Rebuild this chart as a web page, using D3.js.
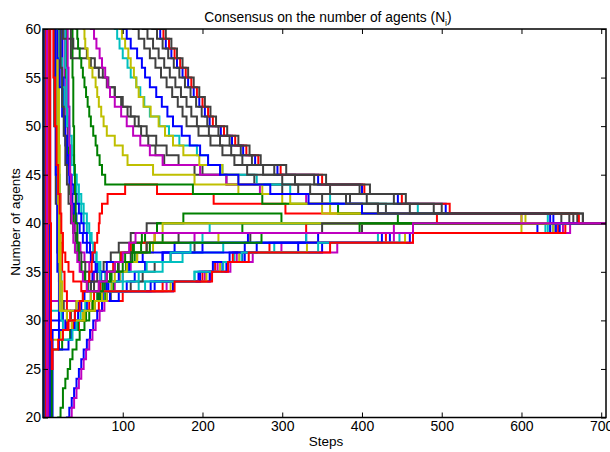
<!DOCTYPE html>
<html>
<head>
<meta charset="utf-8">
<script src="https://cdn.jsdelivr.net/npm/d3@7"></script>
<style>
body { margin: 0; background: #fff; }
text { font-family: "Liberation Sans", Arial, Helvetica, sans-serif; }
</style>
</head>
<body>
<script>
// tick labels
var xTicks = [100, 200, 300, 400, 500, 600, 700];
var yTicks = [20, 25, 30, 35, 40, 45, 50, 55, 60];
var lastStep = 706;

// matlab line colours
var cb = "#0000ff", cg = "#008000", cr = "#ff0000", cc = "#00bfbf",
    cm = "#bf00bf", cy = "#bfbf00", ck = "#404040";

// each agent: [step, value] points where its estimate changes
var agentV1 = [[0,150],[1,-60],[2,120],[3,10],[6,31],[20,32],[60,33],[120,34],[190,35],[215,36],[240,37],[290,38],[420,39],[630,40]];
var agentV2 = [[0,-80],[2,130],[4,-30],[7,30],[25,31],[45,32],[75,33],[140,34],[195,35],[225,36],[250,37],[320,38],[435,39],[643,40]];
var agentV3 = [[0,100],[3,-40],[5,90],[8,29],[30,30],[50,31],[65,32],[85,33],[110,34],[125,35],[140,36],[160,37],[190,38],[260,39],[400,40]];
var agentV4 = [[0,-90],[4,150],[6,-20],[9,29],[30,30],[50,31],[70,32],[100,33],[150,34],[200,35],[216,36],[238,37],[284,38],[430,39],[646,40]];
var agentV5 = [[0,120],[5,-20],[8,32],[60,33],[163,34],[210,35],[235,36],[263,37],[369,38],[464,39],[661,40]];

var agentD1 = [[0,0],[19,20],[22,21],[25,23],[28,24],[31,25],[34,26],[37,27],[42,28],[46,29],[52,30],[58,31],[64,32],[72,33],[78,34],[84,35],[90,36],[97,37],[112,38],[128,39],[143,40],[176,41],[299,40]];
var agentD2 = [[0,0],[30,20],[33,21],[36,22],[39,23],[42,24],[45,25],[48,26],[51,27],[55,28],[59,29],[63,30],[68,31],[74,32],[80,33],[163,34],[209,35],[230,36],[253,37],[350,38],[460,39],[648,40]];
var agentD3 = [[0,0],[33,20],[36,21],[39,22],[42,23],[45,24],[48,25],[51,26],[54,27],[58,28],[62,29],[66,30],[71,31],[77,32],[84,33],[155,34],[203,35],[219,36],[243,37],[299,38],[440,39],[652,40]];

var agentE1 = [[0,90],[25,60],[27,55],[29,51],[31,48],[33,45],[35,43],[37,41],[40,39],[43,38],[47,37],[52,36],[58,35],[64,34],[72,33],[90,34],[100,35],[110,36],[118,37],[130,38],[190,39],[440,40]];
var agentE2 = [[0,90],[28,60],[29,55],[30,50],[32,46],[34,43],[36,41],[38,39],[41,37],[44,36],[48,35],[53,34],[60,33],[68,32],[78,33],[88,34],[96,35],[104,36],[115,37],[123,38],[150,39],[250,40]];
var agentE3 = [[0,90],[22,60],[24,55],[26,51],[28,48],[30,46],[33,44],[36,42],[39,41],[42,40],[46,39],[50,38],[55,37],[60,36],[66,35],[72,34],[78,33],[84,32],[95,33],[105,34],[115,35],[128,36],[150,37],[200,38],[330,39],[643,40]];
var agentE4 = [[0,90],[26,60],[28,56],[30,52],[33,49],[36,47],[39,45],[42,43],[45,42],[48,41],[51,40],[55,39],[59,38],[63,37],[67,36],[72,35],[78,34],[86,33],[100,34],[120,35],[150,36],[175,37],[226,38],[330,39],[636,40]];
var agentE5 = [[0,90],[12,60],[14,50],[16,42],[18,37],[20,34],[23,32],[26,31],[30,30],[35,31],[42,32],[50,33],[60,34],[68,35],[76,36],[85,37],[95,38],[110,39],[130,40]];
var agentE6 = [[0,90],[16,60],[18,50],[20,43],[22,38],[24,35],[27,33],[30,31],[34,30],[38,29],[45,30],[52,31],[58,32],[64,33],[72,34],[80,35],[88,36],[98,37],[110,38],[140,39],[330,40]];
var agentE7 = [[0,-50],[10,28],[22,29],[36,30],[50,31],[62,32],[74,33],[86,34],[96,35],[106,36],[118,37],[138,38],[220,39],[600,40]];
var agentE8 = [[0,150],[9,-40],[12,29],[28,30],[40,31],[55,32],[70,33],[82,34],[95,35],[108,36],[125,37],[165,38],[257,39],[620,40]];
var agentE9 = [[0,-60],[11,27],[24,28],[34,29],[44,30],[54,31],[62,32],[70,33],[78,34],[86,35],[94,36],[103,37],[114,38],[124,39],[143,40]];

var agentC1 = [[0,90],[14,60],[16,45],[18,35],[20,27],[32,28],[36,29],[40,30],[44,31],[48,32],[52,33],[56,34],[62,35],[80,36],[150,37],[253,38],[345,39],[640,40]];
var agentC2 = [[0,90],[17,60],[19,45],[21,35],[23,30],[25,28],[37,29],[42,30],[47,31],[53,32],[60,33],[80,34],[100,35],[130,36],[160,37],[185,38],[200,39],[209,40]];
var agentY1 = [[0,90],[17,60],[18,50],[19,42],[20,36],[21,31],[42,32],[60,33],[75,34],[90,35],[105,36],[118,37],[130,38],[140,39],[150,40]];
var agentY2 = [[0,90],[19,60],[20,48],[21,40],[22,34],[24,31],[30,30],[52,31],[65,32],[80,33],[160,34],[205,35],[222,36],[246,37],[331,38],[454,39],[640,40]];

var agentF1 = [[0,90],[15,60],[18,57],[21,54],[24,51],[27,49],[30,47],[33,45],[36,44],[39,43],[42,42],[45,41],[48,40],[51,39],[55,38],[59,37],[63,36],[68,35],[73,34],[80,33],[135,34],[197,35],[213,36],[234,37],[268,38],[425,39],[636,40]];
var agentF2 = [[0,90],[18,60],[21,57],[24,54],[27,52],[30,50],[33,48],[36,46],[39,45],[42,44],[45,43],[48,42],[51,41],[55,40],[58,39],[61,38],[64,37],[67,36],[70,35],[72,34],[75,33],[128,34],[190,35],[226,36],[249,37],[345,38],[447,39],[633,40]];
var agentF4 = [[0,90],[11,60],[13,55],[15,50],[17,46],[19,43],[21,41],[23,39],[25,37],[28,36],[32,35],[38,34],[48,33],[165,34],[212,35],[232,36],[258,37],[360,38],[464,39],[655,40]];
var agentF5 = [[0,90],[20,60],[22,56],[24,52],[26,49],[28,46],[30,44],[32,42],[35,40],[38,39],[41,38],[44,37],[48,36],[53,35],[58,34],[64,33],[70,34],[80,35],[95,36],[110,37],[130,38],[170,39],[350,40]];
var agentF6 = [[0,90],[36,60],[37,55],[38,50],[39,46],[40,43],[41,40],[43,38],[45,36],[48,35],[52,34],[56,33],[75,34],[85,35],[100,36],[112,37],[134,38],[274,39],[397,40]];

var agentR1 = [[0,90],[8,60],[9,40],[10,28],[11,25],[12,27],[19,28],[25,29],[32,30],[40,31],[46,32],[50,33],[55,34],[58,35],[61,36],[62,37],[65,38],[68,39],[70,40],[71,41],[74,42],[81,43],[103,44],[143,43],[214,42],[304,41],[494,40]];

var agentB1 = [[0,90],[25,59],[38,58],[55,57],[65,56],[75,55],[82,54],[90,53],[98,52],[106,51],[115,50],[123,49],[132,48],[141,47],[152,46],[200,45],[265,44],[320,43],[385,42],[430,41],[665,40]];
var agentB2 = [[0,90],[35,57],[60,56],[70,55],[80,54],[90,53],[100,52],[110,51],[120,50],[130,49],[142,48],[155,47],[170,46],[190,45],[230,44],[300,43],[350,42],[420,41],[650,40]];
var agentB3 = [[0,70],[60,60],[64,59],[67,58],[71,57],[74,56],[78,55],[81,54],[84,53],[90,52],[98,51],[105,50],[113,49],[122,48],[134,47],[150,46],[197,45],[230,44],[272,43],[330,42],[400,41],[600,40]];
var agentB4 = [[0,70],[51,60],[52,59],[53,58],[56,57],[58,56],[62,55],[66,54],[68,53],[70,52],[73,51],[76,50],[80,49],[90,48],[100,47],[106,46],[138,45],[190,44],[245,43],[300,42],[350,41],[605,40]];
var agentB5 = [[0,70],[42,60],[43,59],[44,58],[46,57],[48,56],[50,55],[52,54],[54,53],[56,52],[58,51],[60,50],[63,49],[66,48],[68,47],[71,46],[74,45],[78,44],[188,43],[275,42],[370,41],[445,40]];

var agentA1 = [[0,62],[90,60],[93,59],[96,58],[100,57],[106,56],[110,55],[117,54],[122,53],[127,52],[134,51],[146,50],[158,49],[171,48],[193,47],[207,46],[225,45],[268,44],[310,43],[360,42],[470,41],[633,40]];
var agentA2 = [[0,62],[96,60],[99,59],[103,58],[107,57],[110,56],[114,55],[117,54],[120,53],[126,52],[135,51],[145,50],[153,49],[163,48],[176,47],[196,46],[225,45],[245,44],[275,43],[310,42],[360,41],[600,40]];
var agentA3 = [[0,62],[100,60],[105,59],[110,58],[118,57],[124,56],[128,55],[134,54],[142,53],[149,52],[156,51],[163,50],[174,49],[184,48],[197,47],[207,46],[222,45],[245,44],[285,43],[333,42],[400,41],[636,40]];
var agentA4 = [[0,62],[113,60],[120,59],[127,58],[134,57],[141,56],[148,55],[155,54],[162,53],[169,52],[175,51],[180,50],[195,49],[210,48],[225,47],[240,46],[256,45],[300,44],[335,43],[380,42],[420,41],[660,40]];
var agentA5 = [[0,62],[125,60],[131,59],[138,58],[145,57],[152,56],[159,55],[166,54],[173,53],[180,52],[186,51],[193,50],[208,49],[222,48],[236,47],[250,46],[276,45],[316,44],[360,43],[406,42],[460,41],[670,40]];
var agentA6 = [[0,62],[140,60],[147,59],[154,58],[161,57],[168,56],[175,55],[182,54],[189,53],[196,52],[203,51],[209,50],[223,49],[237,48],[251,47],[266,46],[294,45],[345,44],[400,43],[445,42],[505,41],[640,40]];
var agentA7 = [[0,62],[144,60],[151,59],[158,58],[165,57],[172,56],[179,55],[186,54],[193,53],[200,52],[207,51],[213,50],[227,49],[241,48],[255,47],[270,46],[298,45],[350,44],[403,43],[450,42],[510,41],[672,40]];
var agentA8 = [[0,62],[137,60],[143,59],[150,58],[157,57],[164,56],[171,55],[178,54],[185,53],[192,52],[199,51],[206,50],[220,49],[234,48],[248,47],[262,46],[290,45],[340,44],[397,43],[440,42],[490,41],[677,40]];
var agentA9 = [[0,62],[147,60],[154,59],[161,58],[168,57],[175,56],[182,55],[189,54],[196,53],[203,52],[210,51],[217,50],[231,49],[245,48],[259,47],[273,46],[305,45],[355,44],[410,43],[455,42],[500,41],[677,40]];

var agentF3 = [[0,90],[30,60],[31,56],[32,52],[33,48],[34,45],[35,42],[36,40],[38,38],[40,37],[43,36],[46,35],[50,34],[55,33],[70,34],[80,35],[90,36],[100,37],[108,38],[116,39],[464,40]];

// drawing order (later on top) and colours
var agents = [agentV1, agentV2, agentV3, agentV4, agentV5,
              agentD1, agentD2, agentD3,
              agentE1, agentE2, agentE3, agentE4, agentE5, agentE6, agentE7, agentE8, agentE9,
              agentC1, agentC2, agentY1, agentY2,
              agentF1, agentF2, agentF4, agentF5, agentF6,
              agentR1,
              agentB1, agentB2, agentB3, agentB4, agentB5,
              agentA1, agentA2, agentA3, agentA4, agentA5, agentA6, agentA7, agentA8, agentA9,
              agentF3];
var agentColors = [cc, cb, ck, cr, cm,
                   cg, cb, cm,
                   cm, cg, cb, cc, ck, cr, cy, cb, cg,
                   cb, cc, cy, cy,
                   cb, cc, cr, ck, cg,
                   cr,
                   ck, ck, cm, cy, cg,
                   cc, cy, cb, ck, ck, cb, cr, ck, ck,
                   cm];

var width = 610, height = 452;
var plotLeft = 43, plotRight = 606, plotTop = 29, plotBottom = 417.5;

var svg = d3.select("body").append("svg")
    .attr("width", width)
    .attr("height", height);

svg.append("rect").attr("width", width).attr("height", height).attr("fill", "#fff");

var x = d3.scaleLinear().domain([0, lastStep]).range([plotLeft, plotRight]);
var y = d3.scaleLinear().domain([20, 60]).range([plotBottom, plotTop]);

svg.append("clipPath").attr("id", "plotclip")
  .append("rect")
    .attr("x", plotLeft).attr("y", plotTop)
    .attr("width", plotRight - plotLeft).attr("height", plotBottom - plotTop);

var line = d3.line()
    .x(function(d) { return x(d[0]); })
    .y(function(d) { return y(d[1]); })
    .curve(d3.curveStepAfter);

svg.append("g")
    .attr("clip-path", "url(#plotclip)")
  .selectAll("path")
    .data(agents)
    .enter()
    .append("path")
    .attr("d", function(d) {
      var pts = d.slice();
      pts.push([lastStep, d[d.length - 1][1]]);
      return line(pts);
    })
    .attr("fill", "none")
    .attr("stroke", function(d, i) { return agentColors[i]; })
    .attr("stroke-width", 2)
    .attr("stroke-linejoin", "miter");

// axes, ticks pointing inward like matlab
var fontSize = "14px";
var xb = svg.append("g").attr("transform", "translate(0," + plotBottom + ")")
    .call(d3.axisBottom(x).tickValues(xTicks).tickSizeInner(-5).tickSizeOuter(0).tickPadding(4));
var xt = svg.append("g").attr("transform", "translate(0," + plotTop + ")")
    .call(d3.axisTop(x).tickValues(xTicks).tickSizeInner(-5).tickSizeOuter(0).tickFormat(""));
var yl = svg.append("g").attr("transform", "translate(" + plotLeft + ",0)")
    .call(d3.axisLeft(y).tickValues(yTicks).tickSizeInner(-5).tickSizeOuter(0).tickPadding(2));
var yr = svg.append("g").attr("transform", "translate(" + plotRight + ",0)")
    .call(d3.axisRight(y).tickValues(yTicks).tickSizeInner(-5).tickSizeOuter(0).tickFormat(""));

[xb, xt, yl, yr].forEach(function(g) {
  g.select(".domain").remove();
  g.selectAll("line").attr("stroke", "#000").attr("stroke-width", 1);
  g.selectAll("text").attr("fill", "#000").style("font-size", fontSize)
    .style("font-family", "'Liberation Sans', Arial, sans-serif");
});

svg.append("rect")
    .attr("x", plotLeft).attr("y", plotTop)
    .attr("width", plotRight - plotLeft).attr("height", plotBottom - plotTop)
    .attr("fill", "none").attr("stroke", "#000").attr("stroke-width", 1.5);

// title
var title = svg.append("text")
    .attr("x", 328).attr("y", 22)
    .attr("text-anchor", "middle")
    .style("font-size", "13.8px");
title.append("tspan").text("Consensus on the number of agents (N");
title.append("tspan").attr("dy", 4).style("font-size", "9px").text("i");
title.append("tspan").attr("dy", -4).text(")");

svg.append("text")
    .attr("x", 326).attr("y", 446)
    .attr("text-anchor", "middle")
    .style("font-size", "13.5px")
    .text("Steps");

svg.append("text")
    .attr("transform", "translate(20,222) rotate(-90)")
    .attr("text-anchor", "middle")
    .style("font-size", "13.5px")
    .text("Number of agents");
</script>
</body>
</html>
